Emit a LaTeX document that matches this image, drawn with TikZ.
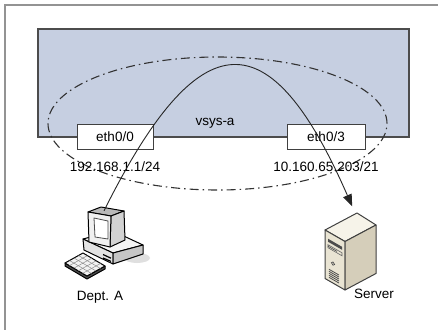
\documentclass[tikz,border=0pt]{standalone}
\usepackage{fontspec}
\setmainfont{Liberation Sans}
\usepackage{xcolor}
\usetikzlibrary{positioning,arrows.meta,shapes.geometric,calc}
\definecolor{vsysblue}{RGB}{198,207,225}
\definecolor{beigetop}{RGB}{246,243,233}
\definecolor{beigeleft}{RGB}{233,228,211}
\definecolor{beigeright}{RGB}{213,206,186}

\begin{document}
\begin{tikzpicture}[x=1pt, y=-1pt, font=\fontsize{13.5}{16}\selectfont,
    port/.style={draw=black!75, fill=white, line width=0.9pt, minimum width=76pt,
                 minimum height=25pt, inner sep=0pt},
    iplabel/.style={inner sep=1pt},
    zone/.style={draw=black!80, line width=1.1pt, ellipse, inner sep=0pt,
                 dash pattern=on 9pt off 4pt on 1.5pt off 4pt},
    flow/.style={draw=black!85, line width=0.9pt, shorten >=7pt,
                 -{Triangle[length=12pt,width=9pt]}},
    icon/.style={draw=black, line width=1pt, line join=round}]
\useasboundingbox (0,0) rectangle (438,329);
\clip (0,0) rectangle (438,329);
\draw[gray!85, line width=1.5pt] (5,5) rectangle (450,340);

% the virtual system
\node (vsys) [draw=black!70, fill=vsysblue, line width=1.1pt, minimum width=371pt,
              minimum height=108pt, inner sep=0pt] at (223.5,83) {};
\node (vsysname) [anchor=base] at (215,125) {vsys-a};
\node (zone) [zone, minimum width=339pt, minimum height=133pt] at (217.5,123.5) {};

\node (eth0) [port] at (115,136.5) {eth0/0};
\node (eth3) [port, minimum width=78pt] at (326,136.5) {eth0/3};
\node (ip0) [iplabel, below=11pt of eth0] {192.168.1.1/24};
\node (ip3) [iplabel, below=11pt of eth3] {10.160.65.203/21};

% desktop pc
\node (pc) [minimum width=80pt, minimum height=58pt, inner sep=0pt] at (104,240) {};
\begin{scope}[shift={(pc.center)}]
  \fill[gray!25] (33,18) ellipse [x radius=13, y radius=5];
  % base unit
  \draw[icon, fill=gray!8] (-21,-1) -- (9,-9) -- (39,5) -- (9,13) -- cycle;
  \draw[icon, fill=gray!22] (-21,-1) -- (9,13) -- (9,24) -- (-20,10) -- cycle;
  \draw[icon, fill=gray!45] (9,13) -- (39,5) -- (39,14) -- (9,24) -- cycle;
  \draw[line width=1.2pt] (-1,14.5) -- (7,18.2);
  \draw[line width=1.2pt] (-1,18) -- (7,21.4);
  % monitor
  \draw[icon, fill=gray!55] (-16,-28) -- (-3,-33) -- (20,-29) -- (7,-24) -- cycle;
  \draw[icon, fill=gray!35] (7,-24) -- (20,-29) -- (21,0) -- (6,7) -- cycle;
  \draw[icon, fill=gray!12] (-16,-28) -- (7,-24) -- (6,7) -- (-15,2) -- cycle;
  \draw[draw=black!70, fill=white, line width=0.8pt]
    (-10,-22) -- (4,-19) -- (4,-1) -- (-9,-3) -- cycle;
  % keyboard
  \draw[icon, fill=black!70] (-39,23) -- (-17,36) -- (1,26) -- (1,29) -- (-17,39) -- (-39,26) -- cycle;
  \draw[icon, fill=gray!10] (-39,23) -- (-21,13) -- (1,26) -- (-17,36) -- cycle;
  \foreach \t in {0.25,0.5,0.75} {
    \draw[black!45, line width=0.5pt] ($(-39,23)!\t!(-21,13)$) -- ($(-17,36)!\t!(1,26)$);
  }
  \foreach \t in {0.2,0.4,0.6,0.8} {
    \draw[black!45, line width=0.5pt] ($(-39,23)!\t!(-17,36)$) -- ($(-21,13)!\t!(1,26)$);
  }
\end{scope}
\node (pcname) [iplabel, below=20.7pt of pc, xshift=-4pt] {Dept. A};

% server tower
\node (srv) [minimum width=52pt, minimum height=77pt, inner sep=0pt] at (351,251.5) {};
\begin{scope}[shift={(srv.center)}]
  \draw[icon, draw=black!75, fill=beigetop] (-26,-21.5) -- (6,-38.5) -- (25,-26.5) -- (-6,-10) -- cycle;
  \draw[icon, draw=black!75, fill=beigeleft] (-26,-21.5) -- (-6,-10) -- (-6,38.5) -- (-26,27) -- cycle;
  \draw[icon, draw=black!75, fill=beigeright] (-6,-10) -- (25,-26.5) -- (25,22) -- (-6,38.5) -- cycle;
  \begin{scope}[shift={(-26,-21.5)}, yslant=-0.575]
    \fill[black!70] (3,7) rectangle (17,10);
    \draw[black!60, line width=0.6pt] (3,13) rectangle (17,16);
    \draw[black!70, line width=0.7pt] (3,14.5) -- (12,14.5);
    \draw[black!70, line width=0.7pt] (8,29) circle [radius=1.6];
    \foreach \v in {37,39,41,43,45} {
      \draw[black!70, line width=0.8pt] (4,\v) -- (14,\v);
    }
  \end{scope}
\end{scope}
\node (srvname) [iplabel, below right=-2.7pt and 2pt of srv.south] {Server};

% traffic through the vsys
\draw[flow] (pc.north) .. controls +(96,-192.5) and +(-85,-194.5) .. ([xshift=4pt]srv.north);
\end{tikzpicture}
\end{document}
